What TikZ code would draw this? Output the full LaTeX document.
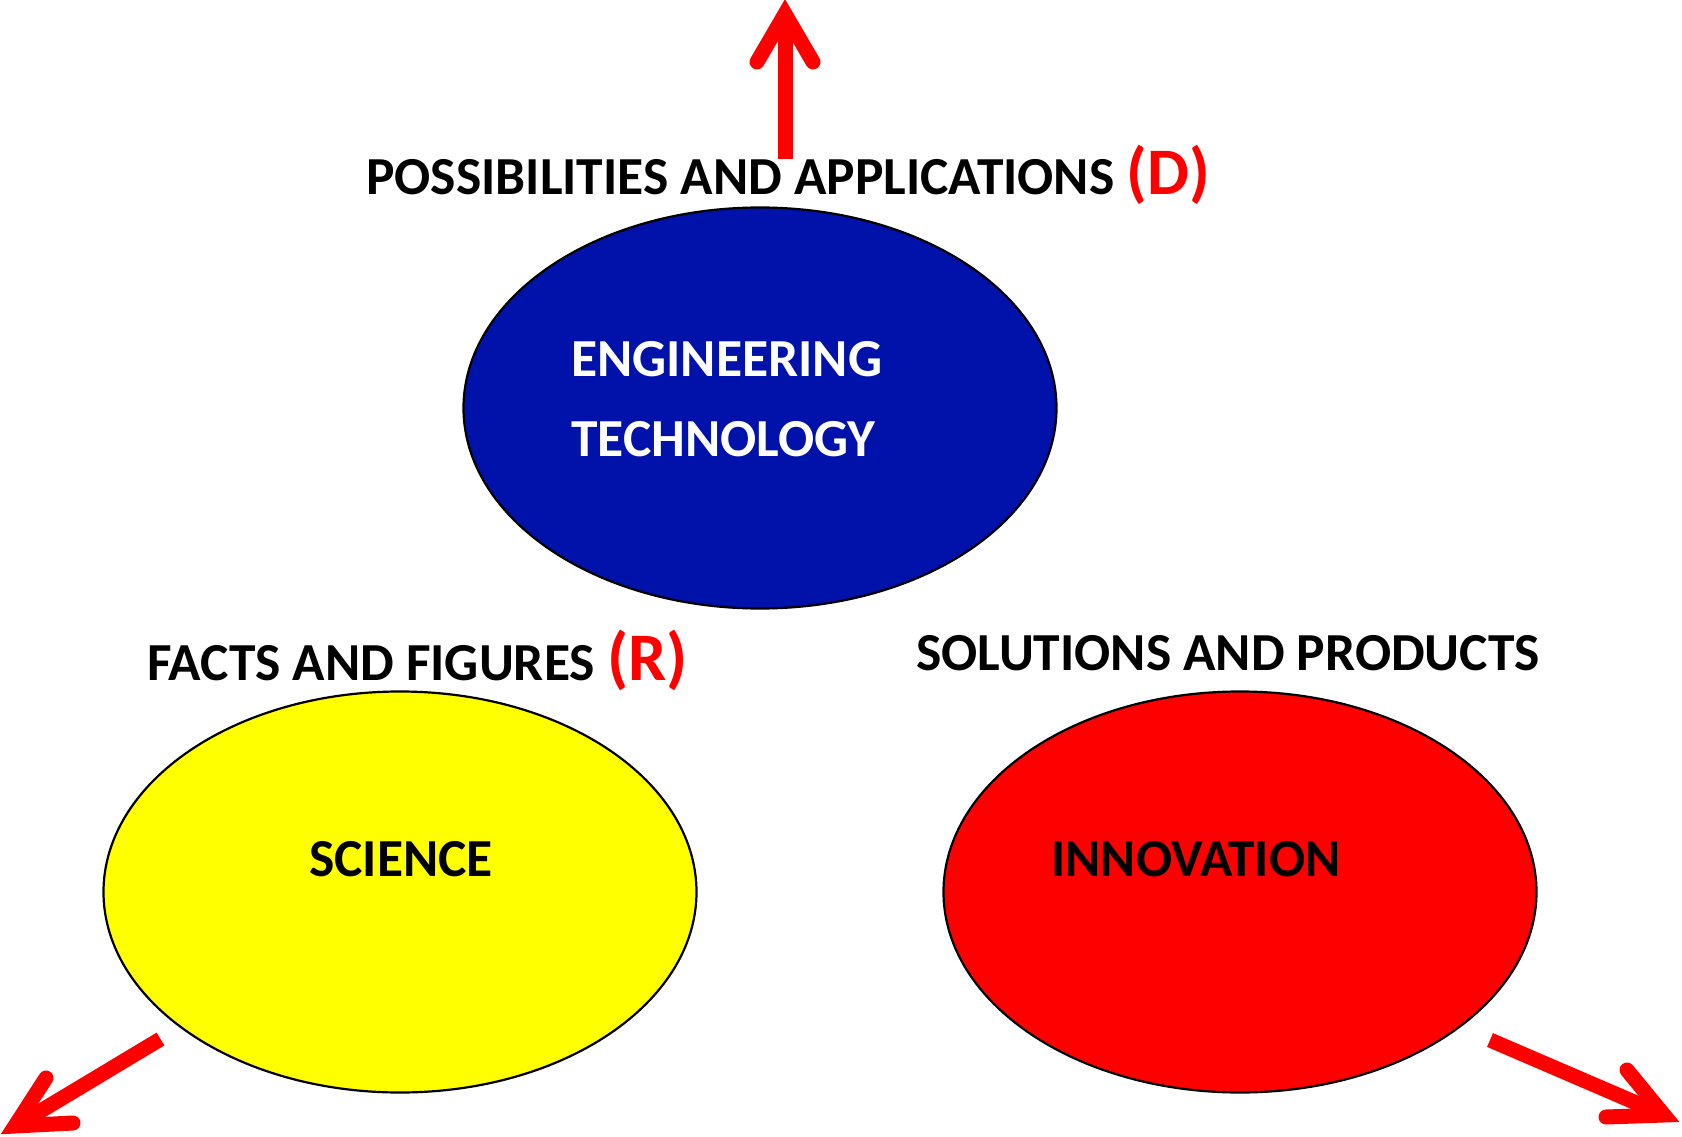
\documentclass[tikz,border=0pt]{standalone}
\usepackage{fontspec}
\setmainfont{Carlito}
\usetikzlibrary{shapes.geometric}
\definecolor{engblue}{HTML}{0012AA}
\definecolor{arrred}{HTML}{FF0000}
\definecolor{sciyellow}{HTML}{FFFF00}
\tikzset{
  oval/.style={ellipse, draw=black, line width=2.2pt, minimum width=593pt, minimum height=401pt, inner sep=0pt},
  lbl/.style={anchor=base west, inner sep=0pt, font=\fontsize{53.5}{56}\selectfont\bfseries},
  shaft/.style={draw=arrred, line width=15pt, line cap=butt},
  barb/.style={draw=arrred, line width=15pt, line cap=round, line join=miter, miter limit=10}
}
\newcommand{\redtag}[2]{{\color{arrred}\fontsize{#2}{#2}\selectfont(#1)}}
\begin{document}
\begin{tikzpicture}[x=1pt,y=-1pt]
\useasboundingbox (0,0) rectangle (1682,1137);
\clip (0,0) rectangle (1682,1137);
% ellipses
\node[oval, fill=engblue] (eng) at (760,408) {};
\node[oval, fill=sciyellow] (sci) at (400,892) {};
\node[oval, fill=arrred] (inn) at (1240,892) {};
% texts
\node[lbl, text=white] (t1) at (571,376.5) {ENGINEERING};
\node[lbl, text=white] (t2) at (571,456) {TECHNOLOGY};
\node[lbl] (t3) at (309,876.5) {SCIENCE};
\node[lbl] (t4) at (1051,876.5) {INNOVATION};
\node[lbl] (t5) at (366,194) {POSSIBILITIES AND APPLICATIONS \redtag{D}{66.5}};
\node[lbl] (t6) at (147,680) {FACTS AND FIGURES \redtag{R}{68}};
\node[lbl] (t7) at (916,670.5) {SOLUTIONS AND PRODUCTS};
% up arrow
\coordinate (ua0) at (785,159);
\coordinate (ua1) at (785,14);
\coordinate (uw1) at (757,62);
\coordinate (uw2) at (813,62);
\draw[shaft] (ua0) -- (785,24);
\draw[barb] (uw1) -- (ua1) -- (uw2);
% left arrow
\coordinate (la0) at (160.5,1039);
\coordinate (la1) at (15,1126);
\coordinate (lw1) at (46,1078);
\coordinate (lw2) at (73,1123);
\draw[shaft] (la0) -- (24,1121);
\draw[barb] (lw1) -- (la1) -- (lw2);
% right arrow
\coordinate (ra0) at (1490,1040);
\coordinate (ra1) at (1664,1115);
\coordinate (rw1) at (1627,1070);
\coordinate (rw2) at (1606,1117);
\draw[shaft] (ra0) -- (1655,1111);
\draw[barb] (rw1) -- (ra1) -- (rw2);
\end{tikzpicture}
\end{document}
